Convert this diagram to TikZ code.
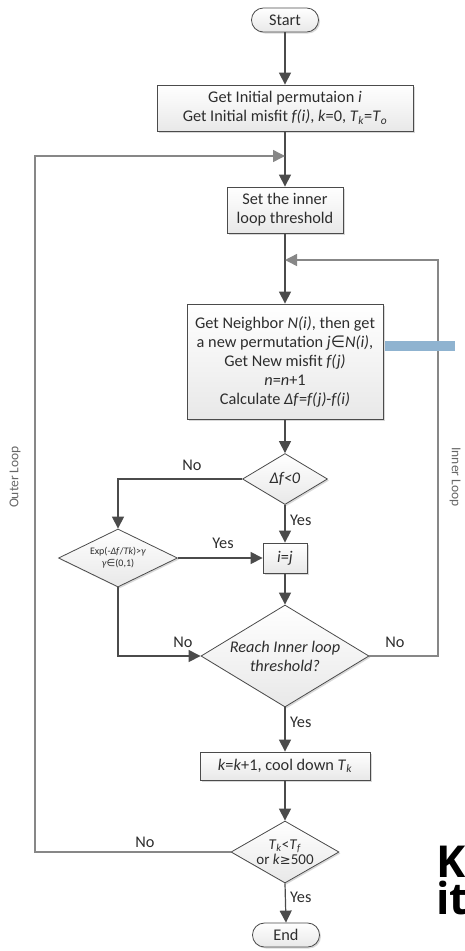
\documentclass[tikz,border=0pt]{standalone}
\usepackage{fontspec}
\setmainfont{Carlito}
\newfontfamily\symfont{DejaVu Sans}
\newfontfamily\bigfont{Open Sans}
\usepackage{tikz}
\usetikzlibrary{shapes.geometric,arrows.meta,positioning,shadows}
\definecolor{linegray}{RGB}{75,75,75}
\definecolor{loopgray}{RGB}{135,135,135}
\definecolor{textgray}{RGB}{45,45,45}
\definecolor{boxgray}{RGB}{232,232,232}
\definecolor{barblue}{RGB}{143,179,208}
\newcommand{\ix}[1]{\textsubscript{\textit{#1}}}

\begin{document}
\begin{tikzpicture}[x=1pt, y=-1pt,
  every node/.style={font=\fontsize{16.3}{19}\selectfont, text=textgray},
  shade/.style={top color=white, bottom color=boxgray,
    drop shadow={shadow xshift=1.5pt, shadow yshift=-1.5pt, fill=black!30}},
  termbox/.style={shade, draw=linegray, rounded corners=11.9pt, line width=0.8pt,
    minimum width=67pt, minimum height=24pt, inner sep=0pt},
  procbox/.style={shade, draw=linegray, line width=0.8pt, inner sep=0pt, align=center},
  decision/.style={shade, diamond, draw=linegray, line width=0.8pt, inner sep=0pt, align=center},
  lbl/.style={inner sep=1pt},
  looplbl/.style={text=black!60, font=\fontsize{13.5}{15}\selectfont},
  arr/.style={draw=linegray, line width=1.2pt, -{Triangle[length=12pt,width=12pt]}},
  loopline/.style={arr, draw=loopgray, line width=1.4pt}
]
\useasboundingbox (0,0) rectangle (464,951);

\node[termbox] (start) at (285,20) {Start};
\node[procbox, minimum width=256pt, minimum height=46pt] (init) at (285,108)
  {Get Initial permutaion \textit{i}\\Get Initial misfit \textit{f(i)}, \textit{k}=0, \textit{T}\ix{k}=\textit{T}\ix{o}};
\coordinate (outerin) at (285,156);
\node[procbox, minimum width=116pt, minimum height=46pt] (setthr) at (285,210)
  {Set the inner\\loop threshold};
\coordinate (innerin) at (285,260);
\node[procbox, minimum width=196pt, minimum height=115pt] (neigh) at (285,361.5)
  {Get Neighbor \textit{N(i)}, then get\\a new permutation \textit{j}{\symfont ∈}\textit{N(i)},\\Get New misfit \textit{f(j)}\\\textit{n}=\textit{n}+1\\Calculate \textit{Δf}=\textit{f(j)}-\textit{f(i)}};
\node[decision, aspect=1.67, minimum width=85pt, minimum height=51pt] (dfneg) at (285,479)
  {\textit{Δf<0}};
\node[decision, aspect=2.05, minimum width=119pt, minimum height=58pt,
  font=\fontsize{10}{12}\selectfont] (prob) at (118,558)
  {Exp(-\textit{Δf}/\textit{Tk})>\textit{γ}\\\textit{γ}{\symfont ∈}(0,1)};
\node[procbox, minimum width=44pt, minimum height=30pt] (swap) at (285,558)
  {\textit{i}=\textit{j}};
\node[decision, aspect=1.65, minimum width=168pt, minimum height=102pt] (reach) at (285,656)
  {\textit{Reach Inner loop}\\\textit{threshold?}};
\node[procbox, minimum width=170pt, minimum height=28pt] (cool) at (285,766)
  {\textit{k}=\textit{k}+1, cool down \textit{T}\ix{k}};
\node[decision, aspect=1.74, minimum width=108pt, minimum height=62pt,
  font=\fontsize{15}{15}\selectfont] (check) at (285,852)
  {\textit{T}\ix{k}<\textit{T}\ix{f}\\or \textit{k}{\symfont\fontsize{13}{15}\selectfont ≥}500};
\node[termbox] (end) at (286,935) {End};

\coordinate (outerx) at (35,0);
\coordinate (innerx) at (438,0);

\draw[arr] (start) -- (init);
\draw[arr] (init) -- (setthr);
\draw[arr] (setthr) -- (neigh);
\draw[arr] (neigh) -- (dfneg);
\draw[arr] (dfneg.west) -| (prob.north);
\draw[arr] (dfneg.south) -- (swap.north);
\draw[arr] (prob.east) -- (swap.west);
\draw[arr] (swap.south) -- (reach.north);
\draw[arr] (prob.south) |- (reach.west);
\draw[arr] (reach.south) -- (cool.north);
\draw[arr] (cool) -- (check);
\draw[arr] (check.south) -- (end.north);
\draw[loopline] (reach.east) -- (reach.east -| innerx) |- (innerin);
\draw[loopline] (check.west) -- (check.west -| outerx) |- (outerin);

\node[lbl] (no1) at (192,465) {No};
\node[lbl, anchor=west] (yes1) at (289,520) {Yes};
\node[lbl] (yes2) at (223,543) {Yes};
\node[lbl] (no2) at (183,642) {No};
\node[lbl] (no3) at (395,642) {No};
\node[lbl, anchor=west] (yes3) at (289,722) {Yes};
\node[lbl] (no4) at (145,842) {No};
\node[lbl, anchor=west] (yes4) at (289,897) {Yes};

\node[looplbl, rotate=90] (outerlbl) at (15,477) {Outer Loop};
\node[looplbl, rotate=-90] (innerlbl) at (455,477) {Inner Loop};

\fill[barblue] (385,341) rectangle (455,351);

\node[anchor=north west, inner sep=0pt, text=black, align=left,
  font=\bigfont\bfseries\fontsize{44}{37}\selectfont] (bigtext) at (436,846) {K\\it};
\end{tikzpicture}
\end{document}
